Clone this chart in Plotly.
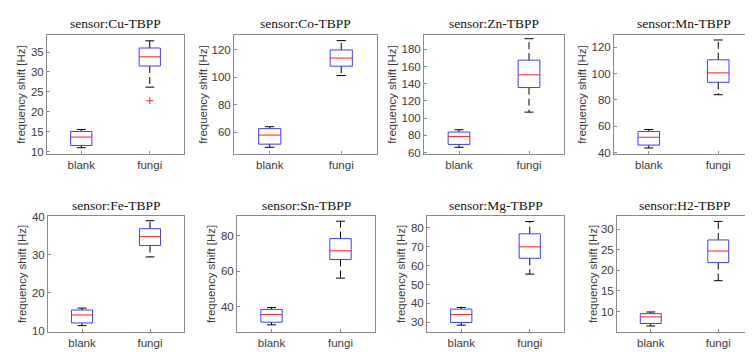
import plotly.graph_objects as go

W, H = 753, 352

categories = ["blank", "fungi"]
sensors = ["Cu", "Co", "Zn", "Mn", "Fe", "Sn", "Mg", "H2"]

blank_min = [11.05, 49.2, 66.0, 43.7, 11.4, 29.7, 28.4, 6.5]
blank_q1 = [11.6, 51.5, 69.4, 45.9, 12.1, 31.2, 29.8, 7.1]
blank_med = [13.7, 58.1, 78.5, 51.8, 14.2, 35.5, 34.0, 8.7]
blank_q3 = [15.1, 62.8, 83.8, 56.2, 15.5, 38.4, 36.9, 9.5]
blank_max = [15.6, 64.2, 86.5, 57.7, 16.0, 39.5, 37.8, 9.9]

fungi_min = [26.2, 101.4, 107.0, 84.0, 29.4, 56.1, 55.5, 17.5]
fungi_q1 = [31.5, 108.2, 135.6, 93.4, 32.4, 66.6, 63.9, 21.9]
fungi_med = [33.8, 114.1, 150.4, 100.5, 34.7, 71.5, 70.0, 24.7]
fungi_q3 = [36.0, 120.0, 167.5, 110.4, 36.8, 78.4, 76.9, 27.4]
fungi_max = [37.8, 126.8, 192.5, 125.4, 38.9, 88.2, 83.4, 31.9]

fungi_outliers = [[22.8], [], [], [], [], [], [], []]

y_ranges = [[9.35, 39.3], [44, 131], [57.7, 197], [38.8, 129.3],
            [9.8, 40], [25.8, 90.9], [24.9, 86.1], [5.1, 33.1]]
y_dticks = [5, 20, 20, 20, 10, 20, 10, 5]

# axes pixel boxes (left, right, top, bottom)
px_boxes = [
    (39, 176, 21.5, 145), (226, 369, 21.5, 145), (416, 556, 21.5, 145), (606, 745, 21.5, 145),
    (40, 176, 209, 328), (229, 367, 209, 328), (419, 556, 209, 328), (609, 744, 209, 328),
]
ytitle_x = [13, 195, 384, 574, 14, 203, 393, 585]

BOX_HW = 0.155
CAP_HW = 0.065
BLUE = "rgb(60,60,255)"
RED = "rgb(255,30,30)"
AX = "#8a8a8a"
TXT = "#3a3a3a"

fig = go.Figure()
annotations = []

for i, s in enumerate(sensors):
    xa = "x" if i == 0 else f"x{i+1}"
    ya = "y" if i == 0 else f"y{i+1}"
    stats = [
        (blank_min[i], blank_q1[i], blank_med[i], blank_q3[i], blank_max[i]),
        (fungi_min[i], fungi_q1[i], fungi_med[i], fungi_q3[i], fungi_max[i]),
    ]
    for j, (mn, q1, md, q3, mx) in enumerate(stats):
        c = j + 1
        # whiskers (dashed)
        fig.add_trace(go.Scatter(x=[c, c, None, c, c], y=[q3, mx, None, q1, mn], mode="lines",
                                 line=dict(color="black", width=1, dash="7px,4px"),
                                 xaxis=xa, yaxis=ya, showlegend=False, hoverinfo="skip"))
        # caps
        fig.add_trace(go.Scatter(x=[c - CAP_HW, c + CAP_HW, None, c - CAP_HW, c + CAP_HW],
                                 y=[mx, mx, None, mn, mn], mode="lines",
                                 line=dict(color="black", width=1),
                                 xaxis=xa, yaxis=ya, showlegend=False, hoverinfo="skip"))
        # box
        fig.add_trace(go.Scatter(x=[c - BOX_HW, c + BOX_HW, c + BOX_HW, c - BOX_HW, c - BOX_HW],
                                 y=[q1, q1, q3, q3, q1], mode="lines",
                                 line=dict(color=BLUE, width=1),
                                 xaxis=xa, yaxis=ya, showlegend=False, hoverinfo="skip"))
        # median
        fig.add_trace(go.Scatter(x=[c - BOX_HW, c + BOX_HW], y=[md, md], mode="lines",
                                 line=dict(color=RED, width=1),
                                 xaxis=xa, yaxis=ya, showlegend=False, hoverinfo="skip"))
    if fungi_outliers[i]:
        fig.add_trace(go.Scatter(x=[2] * len(fungi_outliers[i]), y=fungi_outliers[i], mode="markers",
                                 marker=dict(symbol="cross-thin", size=5, line=dict(color=RED, width=1)),
                                 xaxis=xa, yaxis=ya, showlegend=False, hoverinfo="skip"))

    l, r, t, b = px_boxes[i]
    xdom = [l / W, r / W]
    ydom = [1 - b / H, 1 - t / H]
    common = dict(showline=True, linecolor=AX, linewidth=1, mirror=True, ticks="inside",
                  ticklen=3, tickcolor=AX, showgrid=False, zeroline=False,
                  tickfont=dict(family="Liberation Sans, Arial", size=11.5, color=TXT))
    fig.update_layout(**{
        ("xaxis" if i == 0 else f"xaxis{i+1}"): dict(domain=xdom, anchor=ya, range=[0.5, 2.5],
                                                      tickvals=[1, 2], ticktext=categories, **common),
        ("yaxis" if i == 0 else f"yaxis{i+1}"): dict(domain=ydom, anchor=xa, range=y_ranges[i],
                                                      dtick=y_dticks[i], tick0=0, **common),
    })
    annotations.append(dict(text=f"sensor:{s}-TBPP", xref="paper", yref="paper",
                            x=(l + r) / 2 / W, y=1 - (t - 2) / H, xanchor="center", yanchor="bottom",
                            showarrow=False,
                            font=dict(family="Liberation Serif", size=13.5, color="#111111")))
    annotations.append(dict(text="frequency shift [Hz]", xref="paper", yref="paper",
                            x=ytitle_x[i] / W, y=1 - (t + b) / 2 / H, xanchor="center", yanchor="middle",
                            textangle=-90, showarrow=False,
                            font=dict(family="Liberation Sans, Arial", size=11.5, color=TXT)))

fig.update_layout(width=W, height=H, margin=dict(l=0, r=0, t=0, b=0),
                  paper_bgcolor="white", plot_bgcolor="white", annotations=annotations)

fig.write_html("out.html")
